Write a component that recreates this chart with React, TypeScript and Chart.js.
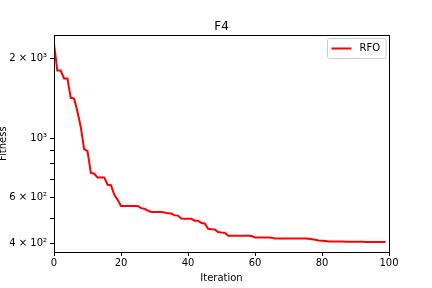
import { useEffect, useRef } from "react";
import { Chart, registerables } from "chart.js";
Chart.register(...registerables);

const seriesName = "RFO";
const fitness: number[] = [
  2270, 1800, 1800, 1680, 1680, 1420, 1410, 1260, 1100, 910,
  895, 740, 735, 712, 712, 712, 668, 665, 612, 586,
  556, 556, 556, 556, 556, 556, 545, 542, 534, 527,
  527, 527, 527, 525, 521, 520, 512, 511, 498, 497,
  497, 497, 489, 489, 479, 477, 456, 454, 453, 443,
  441, 440, 429, 429, 429, 429, 429, 429, 429, 428,
  423, 423, 423, 423, 423, 422, 419, 419, 419, 419,
  419, 419, 419, 419, 419, 419, 418, 416, 414, 412,
  411, 410, 408.5, 408, 408, 408, 407.8, 407.6, 407.5, 407.3,
  407.2, 407, 406.9, 406.8, 406.6, 406.5, 406.4, 406.3, 406.2, 406.1,
];
const xTicks = [0, 20, 40, 60, 80, 100];
const yTicks = [400, 500, 600, 700, 800, 900, 1000, 2000];
const yTickLabels: Record<number, string> = {
  400: "4 × 10²",
  600: "6 × 10²",
  1000: "10³",
  2000: "2 × 10³",
};

const FONT = "'DejaVu Sans', sans-serif";

function roundRect(ctx: CanvasRenderingContext2D, x: number, y: number, w: number, h: number, r: number) {
  ctx.beginPath();
  ctx.moveTo(x + r, y);
  ctx.lineTo(x + w - r, y);
  ctx.arcTo(x + w, y, x + w, y + r, r);
  ctx.lineTo(x + w, y + h - r);
  ctx.arcTo(x + w, y + h, x + w - r, y + h, r);
  ctx.lineTo(x + r, y + h);
  ctx.arcTo(x, y + h, x, y + h - r, r);
  ctx.lineTo(x, y + r);
  ctx.arcTo(x, y, x + r, y, r);
  ctx.closePath();
}

export default function App() {
  const ref = useRef<HTMLCanvasElement>(null);
  useEffect(() => {
    const frameAndLegend = {
      id: "frameAndLegend",
      afterDraw(chart: any) {
        const { ctx, chartArea: a } = chart;
        ctx.save();
        ctx.strokeStyle = "#000";
        ctx.lineWidth = 1;
        ctx.strokeRect(Math.round(a.left) + 0.5, Math.round(a.top) + 0.5, Math.round(a.right - a.left), Math.round(a.bottom - a.top));
        // legend (matplotlib style, upper right)
        const ds = chart.data.datasets[0];
        ctx.font = `10px ${FONT}`;
        const tw = ctx.measureText(ds.label).width;
        const w = 4 + 20 + 8 + tw + 6;
        const h = 20;
        const x = Math.round(a.right - 3 - w) + 0.5;
        const y = Math.round(a.top + 3) + 0.5;
        roundRect(ctx, x, y, w, h, 2);
        ctx.fillStyle = "rgba(255,255,255,0.8)";
        ctx.fill();
        ctx.strokeStyle = "#cccccc";
        ctx.stroke();
        ctx.strokeStyle = ds.borderColor;
        ctx.lineWidth = 2;
        ctx.beginPath();
        ctx.moveTo(x + 4, y + h / 2);
        ctx.lineTo(x + 24, y + h / 2);
        ctx.stroke();
        ctx.fillStyle = "#000";
        ctx.textBaseline = "middle";
        ctx.textAlign = "left";
        ctx.fillText(ds.label, x + 32, y + h / 2);
        ctx.restore();
      },
    };
    const chart = new Chart(ref.current!, {
      type: "line",
      data: {
        datasets: [
          {
            label: seriesName,
            data: fitness.map((v, i) => ({ x: i, y: v })),
            borderColor: "#ff0000",
            backgroundColor: "#ff0000",
            borderWidth: 2,
            pointRadius: 0,
            tension: 0,
            fill: false,
          },
        ],
      },
      options: {
        responsive: false,
        animation: false,
        layout: { padding: { left: 0, right: 43, top: 0, bottom: 0 } },
        plugins: {
          title: {
            display: true,
            fullSize: false,
            text: "F4",
            color: "#000",
            font: { family: FONT, size: 12, weight: "normal", lineHeight: 1.2 },
            padding: { top: 20, bottom: 1 },
          },
          legend: { display: false },
          tooltip: { enabled: false },
        },
        scales: {
          x: {
            type: "linear",
            min: 0,
            max: 100,
            afterBuildTicks: (s: any) => {
              s.ticks = xTicks.map((v) => ({ value: v }));
            },
            afterFit: (s: any) => {
              s.height = 36;
            },
            grid: { display: true, drawOnChartArea: false, tickLength: 4, color: "#000" },
            border: { display: true, color: "#000" },
            ticks: { color: "#000", font: { family: FONT, size: 10 }, padding: 1, maxRotation: 0 },
            title: {
              display: true,
              text: "Iteration",
              color: "#000",
              font: { family: FONT, size: 10, lineHeight: 1.2 },
              padding: { top: 0, bottom: 4 },
            },
          },
          y: {
            type: "logarithmic",
            min: 372.6,
            max: 2441,
            afterBuildTicks: (s: any) => {
              s.ticks = yTicks.map((v) => ({ value: v }));
            },
            afterFit: (s: any) => {
              s.width = 54;
            },
            grid: { display: true, drawOnChartArea: false, tickLength: 4, color: "#000" },
            border: { display: true, color: "#000" },
            ticks: {
              color: "#000",
              font: { family: FONT, size: 10 },
              padding: 3,
              autoSkip: false,
              callback: (v: any) => yTickLabels[Number(v)] ?? "",
            },
            title: {
              display: true,
              text: "Fitness",
              color: "#000",
              font: { family: FONT, size: 10, lineHeight: 1.2 },
              padding: { top: -3, bottom: 0 },
            },
          },
        },
      },
      plugins: [frameAndLegend],
    });
    return () => chart.destroy();
  }, []);
  return (
    <div style={{ position: "fixed", left: 0, top: 0, width: 432, height: 288, background: "#fff" }}>
      <canvas ref={ref} width={432} height={288} />
    </div>
  );
}
